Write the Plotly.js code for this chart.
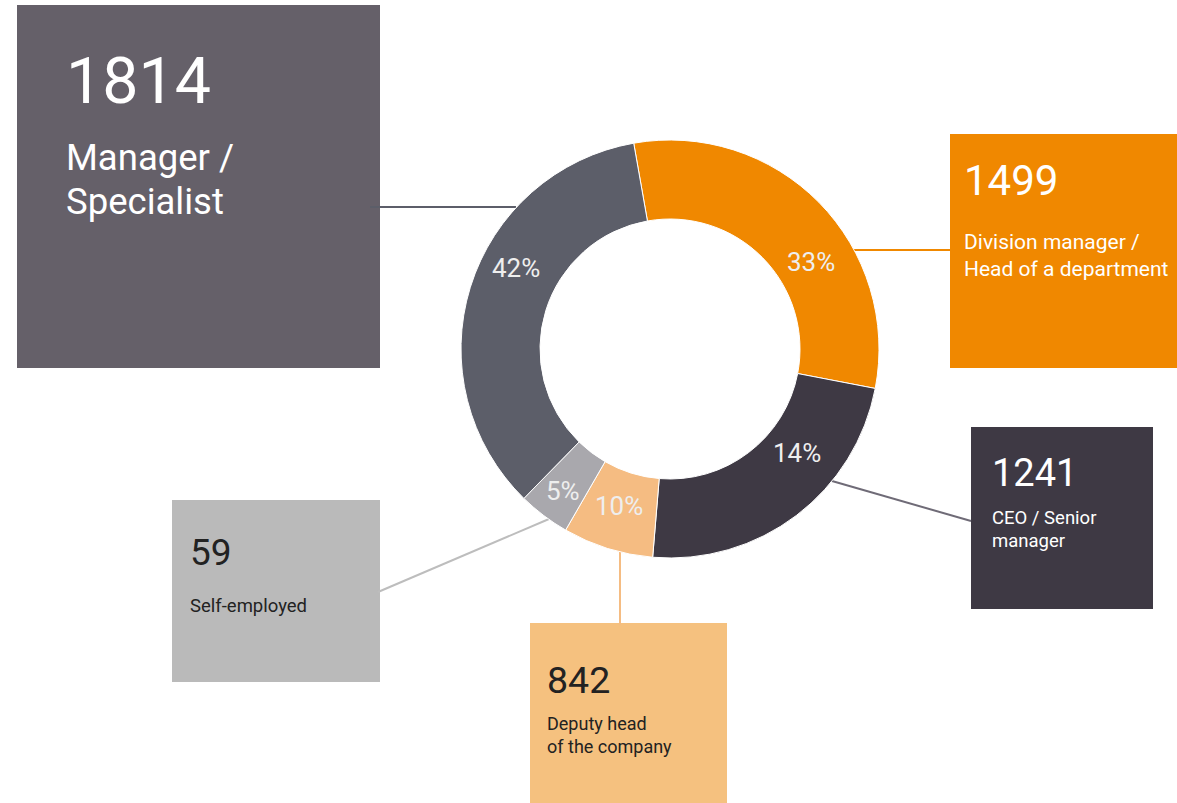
<!DOCTYPE html>
<html>
<head>
<meta charset="utf-8">
<script src="https://cdn.plot.ly/plotly-3.0.1.min.js"></script>
<style>html,body{margin:0;padding:0;background:#fff;}#chart{width:1177px;height:803px;}</style>
</head>
<body>
<div id="chart"></div>
<script>
// ---- data ----
const categories = ["Division manager /<br>Head of a department", "CEO / Senior<br>manager", "Deputy head<br>of the company", "Self-employed", "Manager /<br>Specialist"];
const counts = [1499, 1241, 842, 59, 1814];
const percentLabels = ["33%", "14%", "10%", "5%", "42%"];
const sliceShares = [30.8, 23.3, 7.0, 4.0, 34.9];   // drawn slice sizes

// ---- styling ----
const W = 1177, H = 803;
const sliceColors = ["#f08800", "#3e3944", "#f5bc82", "#a9a8ad", "#5c5e69"];
const boxColors   = ["#f08800", "#3e3944", "#f5c17f", "#bababa", "#656069"];
const lineColors  = ["#f08800", "#6f6b77", "#f5bc82", "#bdbdbd", "#5c5e69"];
const textColors  = ["#ffffff", "#ffffff", "#222222", "#222222", "#ffffff"];
// box geometry in pixels: [x0, y0, x1, y1]
const boxes = [[950,134,1177,368],[971,427,1153,609],[530,623,727,803],[172,500,380,682],[17,5,380,368]];
const connectors = [[851,250,950,250],[832,481,971,521],[620,548,620,625],[378,592,549,519],[370,207,516,207]];
// text layout: [x, numberCenterY, numberSize, firstLineCenterY, labelSize, lineStep]
const textPos = [[965,180.5,42,242,21,27],[993,473,38,518,18.5,22.5],[548,680,37.5,723.5,18,23],[191,552,37,606,18.5,0],[67,81.5,64.5,157.5,36.5,44]];
// percent label centres in pixels
const pctPos = [[811,262],[797,453],[618.5,506],[562.5,491],[516,267.5]];

const px = x => x / W;
const py = y => 1 - y / H;

const cx = 670, cy = 349, R = 209;

const shapes = [];
boxes.forEach((b, i) => {
  shapes.push({type:"rect", xref:"paper", yref:"paper", x0:px(b[0]), x1:px(b[2]), y0:py(b[3]), y1:py(b[1]),
    fillcolor: boxColors[i], line:{width:0}, layer:"below"});
});
connectors.forEach((c, i) => {
  shapes.push({type:"line", xref:"paper", yref:"paper", x0:px(c[0]), y0:py(c[1]), x1:px(c[2]), y1:py(c[3]),
    line:{color: lineColors[i], width:2}, layer:"below"});
});

const annotations = [];
categories.forEach((cat, i) => {
  const t = textPos[i];
  annotations.push({xref:"paper", yref:"paper", x:px(t[0]-3), y:py(t[1]), xanchor:"left", yanchor:"middle",
    text: String(counts[i]), showarrow:false, align:"left",
    font:{family:"Roboto", size:t[2], color:textColors[i]}});
  cat.split("<br>").forEach((line, k) => {
    annotations.push({xref:"paper", yref:"paper", x:px(t[0]-3), y:py(t[3] + k * t[5]), xanchor:"left", yanchor:"middle",
      text: line, showarrow:false, align:"left",
      font:{family:"Roboto", size:t[4], color:textColors[i]}});
  });
  const p = pctPos[i];
  annotations.push({xref:"paper", yref:"paper", x:px(p[0]), y:py(p[1]), xanchor:"center", yanchor:"middle",
    text: percentLabels[i], showarrow:false,
    font:{family:"Roboto", size:26, color:"#eeeeee"}});
});

const trace = {
  type:"pie",
  values: sliceShares,
  labels: categories.map(c => c.replace("<br>", " ")),
  text: percentLabels,
  textinfo:"none",
  hole: 0.622,
  sort:false,
  direction:"clockwise",
  rotation:-10,
  marker:{colors: sliceColors, line:{color:"#ffffff", width:1}},
  domain:{x:[px(cx-R), px(cx+R)], y:[py(cy+R), py(cy-R)]},
  hoverinfo:"label+text"
};

Plotly.newPlot("chart", [trace], {
  width:W, height:H,
  margin:{l:0,r:0,t:0,b:0},
  paper_bgcolor:"#ffffff",
  showlegend:false,
  shapes: shapes,
  annotations: annotations,
  font:{family:"Roboto"}
}, {displayModeBar:false, staticPlot:true});
</script>
</body>
</html>
